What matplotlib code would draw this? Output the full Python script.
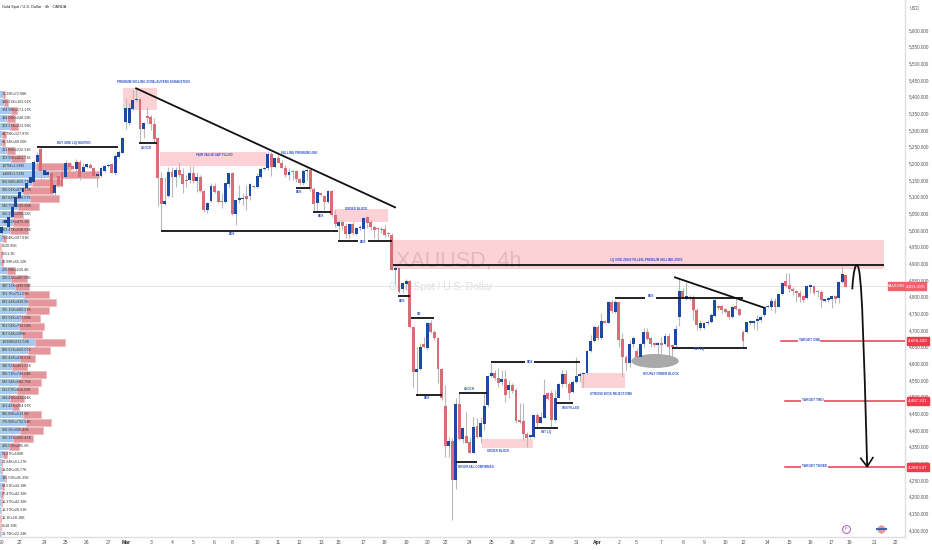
import numpy as np
import matplotlib
matplotlib.use("Agg")
import matplotlib.pyplot as plt
from matplotlib.patches import Ellipse, PathPatch, Rectangle
from matplotlib.path import Path

# 4h candles
opens = [4992,5020,5010,5040,5070,5095,5115,5125,5140,5145,
         5205,5243,5165,5165,5170,5110,5162,5175,5160,5200,
         5192,5183,5205,5175,5188,5196,5187,5163,5163,5178,
         5192,5197,5172,5220,5232,5323,5322,5363,5390,5393,
         5303,5343,5338,5317,5275,5155,5078,5103,5175,5158,
         5180,5167,5150,5150,5172,5146,5160,5117,5060,5088,
         5133,5117,5085,5083,5138,5170,5047,5090,5092,5102,
         5102,5132,5128,5160,5182,5185,5227,5190,5215,5202,
         5187,5164,5174,5176,5152,5140,5177,5180,5122,5080,
         5112,5103,5084,5117,5045,5012,5024,5012,4987,5019,
         4988,5005,5002,5039,5024,5010,5005,5003,5003,4990,
         4985,4880,4885,4822,4838,4848,4708,4573,4583,4658,
         4647,4722,4693,4677,4582,4472,4352,4368,4250,4478,
         4373,4382,4364,4332,4412,4378,4418,4475,4562,4572,
         4557,4543,4553,4520,4535,4520,4427,4428,4388,4378,
         4378,4444,4422,4437,4510,4510,4430,4497,4537,4567,
         4538,4515,4545,4562,4568,4570,4637,4667,4708,4675,
         4725,4722,4785,4755,4783,4672,4620,4600,4658,4637,
         4620,4657,4694,4675,4660,4654,4660,4657,4682,4655,
         4655,4740,4817,4793,4800,4800,4760,4705,4705,4720,
         4725,4742,4772,4772,4762,4757,4738,4772,4762,4695,
         4695,4722,4722,4728,4730,4745,4768,4770,4787,4770,
         4808,4847,4835,4822,4817,4812,4803,4795,4830,4832,
         4817,4815,4788,4790,4792,4802,4795,4845,4865]
highs = [5015,5035,5045,5075,5105,5120,5130,5145,5165,5210,
         5235,5250,5190,5180,5180,5165,5170,5180,5210,5205,
         5195,5212,5210,5200,5202,5200,5190,5170,5190,5195,
         5198,5200,5228,5240,5280,5395,5380,5420,5425,5395,
         5325,5370,5345,5335,5278,5173,5160,5190,5188,5188,
         5205,5185,5165,5192,5192,5175,5165,5120,5085,5140,
         5140,5120,5110,5142,5172,5175,5090,5135,5110,5135,
         5140,5135,5170,5190,5188,5235,5235,5220,5230,5210,
         5195,5185,5180,5180,5155,5182,5185,5185,5130,5115,
         5115,5105,5120,5120,5060,5030,5030,5020,5020,5025,
         5010,5015,5040,5042,5030,5015,5010,5010,5015,4995,
         4990,4895,4890,4845,4852,4850,4710,4650,4660,4680,
         4725,4730,4700,4680,4585,4535,4380,4375,4495,4510,
         4410,4455,4380,4440,4435,4440,4510,4565,4600,4580,
         4585,4580,4580,4550,4540,4525,4480,4480,4395,4388,
         4445,4450,4455,4553,4515,4520,4520,4540,4580,4580,
         4545,4550,4618,4575,4575,4640,4685,4715,4715,4750,
         4730,4788,4790,4790,4785,4690,4625,4670,4682,4645,
         4660,4705,4705,4680,4665,4665,4680,4690,4690,4658,
         4715,4855,4825,4845,4805,4805,4765,4730,4725,4730,
         4750,4795,4775,4775,4765,4760,4772,4795,4765,4700,
         4725,4730,4730,4745,4745,4770,4775,4795,4795,4810,
         4845,4870,4870,4830,4820,4820,4805,4835,4835,4835,
         4820,4820,4792,4800,4805,4805,4847,4892,4867]
lows = [4985,5015,5005,5035,5065,5090,5110,5120,5135,5140,
        5200,5150,5155,5160,5110,5100,5130,5130,5155,5175,
        5180,5175,5150,5170,5185,5185,5160,5130,5160,5175,
        5190,5170,5165,5215,5230,5302,5315,5360,5388,5260,
        5275,5320,5300,5265,5073,5000,5075,5100,5100,5130,
        5160,5110,5130,5140,5140,5115,5115,5055,5050,5085,
        5110,5080,5065,5080,5130,5045,5015,5080,5075,5060,
        5090,5125,5125,5155,5180,5180,5162,5185,5200,5185,
        5160,5150,5150,5145,5135,5135,5150,5118,5055,5055,
        5102,5060,5082,5040,5010,4970,5000,4975,4975,4985,
        4985,5000,4970,5005,5000,4975,4970,4990,4980,4980,
        4880,4835,4810,4810,4820,4705,4530,4503,4580,4645,
        4640,4690,4670,4540,4490,4320,4320,4130,4222,4370,
        4360,4360,4330,4330,4375,4360,4400,4470,4560,4550,
        4530,4535,4485,4495,4510,4420,4420,4370,4350,4375,
        4375,4410,4420,4435,4490,4410,4425,4495,4530,4530,
        4490,4510,4540,4545,4530,4568,4635,4665,4670,4672,
        4720,4720,4750,4752,4650,4560,4580,4590,4650,4615,
        4615,4650,4670,4650,4650,4625,4615,4655,4620,4605,
        4650,4712,4795,4790,4790,4730,4700,4700,4702,4715,
        4720,4740,4760,4750,4750,4732,4735,4760,4742,4650,
        4690,4715,4702,4700,4725,4740,4765,4760,4750,4768,
        4805,4830,4815,4805,4785,4785,4785,4793,4810,4805,
        4800,4770,4785,4785,4765,4780,4780,4840,4828]
closes = [5010,5030,5040,5070,5100,5115,5125,5140,5160,5205,
          5225,5178,5180,5175,5112,5135,5135,5132,5202,5188,
          5183,5205,5160,5190,5198,5187,5162,5165,5185,5192,
          5195,5172,5222,5234,5277,5367,5365,5390,5392,5303,
          5320,5335,5317,5272,5155,5077,5087,5175,5158,5180,
          5165,5138,5146,5172,5146,5160,5116,5060,5080,5133,
          5115,5083,5083,5140,5170,5047,5090,5095,5097,5092,
          5137,5128,5162,5182,5185,5227,5190,5215,5202,5187,
          5164,5174,5173,5152,5140,5177,5180,5122,5077,5113,
          5105,5084,5117,5045,5018,5024,5012,4987,5019,4990,
          5005,5010,5037,5022,5010,5000,5002,5000,4985,4988,
          4880,4887,4815,4840,4848,4708,4573,4583,4650,4648,
          4722,4693,4677,4582,4495,4352,4368,4250,4478,4373,
          4405,4362,4332,4410,4380,4420,4473,4562,4572,4555,
          4542,4553,4505,4535,4518,4427,4425,4388,4376,4386,
          4444,4422,4438,4505,4493,4430,4495,4537,4567,4538,
          4510,4545,4563,4568,4572,4637,4667,4708,4675,4727,
          4722,4785,4757,4783,4670,4620,4600,4658,4677,4618,
          4658,4694,4673,4657,4655,4660,4655,4682,4650,4648,
          4703,4817,4800,4802,4795,4760,4715,4720,4720,4725,
          4745,4790,4765,4760,4755,4738,4770,4762,4745,4668,
          4723,4725,4728,4732,4740,4768,4772,4787,4770,4808,
          4842,4832,4822,4817,4810,4800,4790,4832,4832,4810,
          4813,4790,4790,4795,4802,4793,4845,4867,4830]

# volume profile rows, top to bottom, in thousands
profile_prices = [5408 - 24 * i for i in range(56)]
buy_vol = [75.29,130.32,324.98,194.06,303.23,46.78,68.34,211.85,313.99,1070,
           1460,955.68,700.01,897.82,540.75,392.21,401.41,302.47,75.04,0,
           0,22.99,209.89,319.21,440.12,701.7,833.44,765.15,623.91,563.04,
           657.66,1039,828.67,605.42,348.56,639.71,546.94,511.57,294.46,361.44,
           695.86,779.96,608.6,380.37,269.57,96.37,21.84,19.04,135.59,69.51,
           37.47,16.37,16.37,12.1,0,21.79]
sell_vol = [72.08,102.61,171.17,248.29,233.93,127.87,68.06,232.31,421.71,1040,
            1510,859.77,878.77,858.57,625.68,290.32,475.3,538.64,107.91,20.95,
            51.3,65.32,226.4,487.09,439.58,751.05,839.5,689.27,573.08,763.04,
            596,913.53,669.07,438.63,461.53,748.04,682.75,616.03,434.44,204.97,
            513.5,732.54,688.46,606.47,285.6,109,51.27,36.77,45.35,44.19,
            42.36,42.36,26.31,18.18,18.16,22.34]

tick_bars = [0,5,12,18,24,30,35,42,48,54,60,65,72,78,84,90,95,102,108,114,120,125,
             132,138,144,150,155,162,168,174,179,186,192,198,204,209,216,222,228,234,239,246,252]
tick_labels = ["20","22","24","25","26","27","Mar","3","4","5","6","8","10","11","12","13","15",
               "17","18","19","20","22","24","25","26","27","29","31","Apr","2","5","7","8","9",
               "10","12","14","15","16","17","19","21","22"]
price_ticks = list(range(4100, 5601, 50))

# bar_from, bar_to, price_top, price_bottom
zones = [(34.1,43.7,5425,5360),(44.6,74.8,5233,5192),(93.7,108.8,5062,5025),
         (110.4,248.8,4970,4882),(135.3,149.7,4373,4347),(163.3,175.7,4570,4527)]
# bar_from, bar_to, price
levels = [(9.9,32.9,5250),(38.8,43.7,5262),(44.9,94.9,4997),(82.9,86.9,5125),(87.9,92.8,5054),
          (94.9,100.5,4968),(103.2,109.9,4968),(111.8,115.1,4802),(110.4,248.8,4895),
          (115.3,122,4735),(116.8,124.1,4504),(128.9,136.7,4511),(128,134,4305),
          (137.9,147.5,4604),(150.2,163,4604),(150.4,156.9,4407),(156.2,161,4481),
          (173,181.5,4797),(184.5,208.9,4797),(188.9,210,4647)]
trends = [(37.9,5425,110.9,5068),(189.8,4858,214.9,4767)]
# bar_from, bar_to, price, label, label bar
targets = [(219.7,255,4668.42,"TARGET ONE",227.6),(220.9,255,4487.231,"TARGET TWO",228.7),
           (220.9,255,4288.547,"TARGET THREE",229.2)]
notes = [(42.7,5445,"PREMIUM SELLING ZONE+BUYERS EXHAUSTION"),(20.4,5261,"BUY SIDE LIQ HUNTED"),
         (40.9,5246,"CHOCH"),(59.9,5225,"FAIR VALUE GAP FILLED"),(83.8,5230,"SELLING PREMIUM LINE"),
         (83.8,5114,"BOS"),(89.9,5043,"BOS"),(64.8,4988,"BOS"),(100,5064,"ORDER BLOCK"),
         (101.9,4964,"BOS"),(112.9,4786,"BOS"),(117.7,4747,"OB"),(119.9,4496,"BOS"),
         (131.8,4523,"CHOCH"),(133.7,4288,"REVERSAL CONFIRMED"),(140,4338,"ORDER BLOCK"),
         (148.9,4603,"BOS"),(153.4,4395,"INT LQ"),(160.4,4465,"IMB FILLED"),
         (171.7,4509,"STRONG WICK REJECTIONS"),(181.8,4909,"LQ VOID ZONE FILLED+PREMIUM SELLING ZONE"),
         (183,4801,"BOS"),(185.8,4567,"HOURLY ORDER BLOCK"),(196.7,4642,"INT LQ")]

BLUE = "#1b49a6"
RED = "#d96c75"
WICK = "#b9b9b9"
NOTE = "#2b50c8"
plt.rcParams["font.family"] = ["Liberation Sans"]


def vol_label(v):
    if v == 0:
        return "0"
    if v >= 1000:
        return f"{v / 1000:g}M"
    return f"{v:g}K"


fig = plt.figure(figsize=(9.32, 5.5), dpi=100)
ax = fig.add_axes([0, 13.5 / 550, 905 / 932, 536.5 / 550])
ax.set_xlim(-0.48, 254.66)
ax.set_ylim(4080.5, 5690)

# watermark goes under everything
ax.text(111.3, 4905, "XAUUSD, 4h", fontsize=15.5, color="#dedede", va="center", zorder=0.5)
ax.text(109.3, 4829, "Gold Spot / U.S. Dollar", fontsize=7.4, color="#dedede", va="center", zorder=0.5)

for x0, x1, top, bottom in zones:
    ax.add_patch(Rectangle((x0, bottom), x1 - x0, top - bottom, color="#f23645", alpha=0.22, lw=0, zorder=1))

# volume profile
k = 33.5 / 3.547 / 1000
left = ax.get_xlim()[0]
buy_w = np.array(buy_vol) * k
sell_w = np.array(sell_vol) * k
ax.barh(profile_prices, buy_w, left=left, height=21, color="#a9c9f5", zorder=2)
ax.barh(profile_prices, sell_w, left=left + buy_w, height=21, color="#e3979d", edgecolor="#eab4b8", lw=0.4, zorder=2)

ax.axhline(4831.87, color="#e4e4e4", lw=0.7, zorder=1.5)

# candles
x = np.arange(len(opens))
opens_a, closes_a = np.array(opens), np.array(closes)
colors = [BLUE if c >= o else RED for o, c in zip(opens, closes)]
ax.vlines(x, lows, highs, color=WICK, lw=0.8, zorder=3)
ax.bar(x, np.maximum(np.abs(closes_a - opens_a), 4), bottom=np.minimum(opens_a, closes_a), width=0.82, color=colors, zorder=3.2)

for x0, x1, p in levels:
    ax.plot([x0, x1], [p, p], color="#111111", lw=1.3, solid_capstyle="butt", zorder=4)
for x0, p0, x1, p1 in trends:
    ax.plot([x0, x1], [p0, p1], color="#111111", lw=1.3, zorder=4)

ax.add_patch(Ellipse((184.2, 4607), 13.4, 42, color="#a9a9a9", lw=0, zorder=3.1))

for x0, x1, p, label, lx in targets:
    ax.plot([x0, x1], [p, p], color="#e8394a", lw=1.1, zorder=4)
    ax.text(lx, p + 3, label, fontsize=2.3, color=NOTE, ha="center", va="center", weight="bold",
            bbox=dict(facecolor="white", edgecolor="none", pad=0.5), zorder=4.5)

for nx, ny, label in notes:
    ax.text(nx, ny, label, fontsize=2.2, color=NOTE, ha="center", va="center", weight="bold", zorder=5)

# curved projection arrow
arrow = Path([(239.8, 4822), (240.1, 4880), (240.7, 4895), (241.1, 4895),
              (242.6, 4895), (243, 4650), (244, 4290)],
             [Path.MOVETO, Path.CURVE4, Path.CURVE4, Path.CURVE4, Path.CURVE4, Path.CURVE4, Path.CURVE4])
ax.add_patch(PathPatch(arrow, fill=False, edgecolor="#111111", lw=1.3, zorder=6))
ax.plot([242.2, 244, 245.6], [4315, 4290, 4317], color="#111111", lw=1.2, zorder=6)

for row, b, s in zip(profile_prices, buy_vol, sell_vol):
    ax.text(0, row, f"{vol_label(b)}x{vol_label(s)}", fontsize=2.7, color="#333333", va="center", zorder=5)

# axes
for side in ["top", "left"]:
    ax.spines[side].set_visible(False)
for side in ["right", "bottom"]:
    ax.spines[side].set_color("#dfdfdf")
    ax.spines[side].set_linewidth(1)
ax.yaxis.tick_right()
ax.set_yticks(price_ticks, [f"{p:,}.000" for p in price_ticks], fontsize=3.3, color="#555555")
ax.set_xticks(tick_bars, tick_labels, fontsize=3.6, color="#555555")
for t in ax.get_xticklabels():
    if t.get_text() in ("Mar", "Apr"):
        t.set_fontweight("bold")
        t.set_color("#222222")
ax.tick_params(axis="both", length=0, pad=2.5)

# last price and target tags
def price_tag(p, text, x0=907, x1=929, color="#ee3b4a"):
    y = 1 - (4100 + 530 * 3 - p) / 3 / 550
    fig.patches.append(Rectangle((x0 / 932, y - 4 / 550), (x1 - x0) / 932, 8 / 550, transform=fig.transFigure, color=color, zorder=7))
    fig.text((x0 + x1) / 2 / 932, y, text, fontsize=3.2, color="white", ha="center", va="center", zorder=8)

price_tag(4831.87, "4,831.870", 905, 926, "#f2606c")
price_tag(4831.87, "XAUUSD", 888, 905, "#f2606c")
price_tag(4668.42, "4,668.420")
price_tag(4487.231, "4,487.231")
price_tag(4288.547, "4,288.547")

fig.text(2 / 932, 1 - 7 / 550, "Gold Spot / U.S. Dollar \u00b7 4h \u00b7 OANDA", fontsize=2.8, color="#222222", va="center")
fig.text(910 / 932, 1 - 8 / 550, "USD", fontsize=3.3, color="#555555", va="center")

# event icons at the bottom edge
ax.scatter([238], [4103], s=32, facecolor="white", edgecolor="#a55bc9", lw=0.7, zorder=6, clip_on=False)
ax.text(238, 4103, "F", fontsize=3, color="#8a3fb0", ha="center", va="center", zorder=7)
ax.scatter([248], [4103], s=32, facecolor="#e9929a", edgecolor="#d9c2c6", lw=0.5, zorder=6, clip_on=False)
ax.plot([246.8, 249.2], [4103, 4103], color="#3f5fb0", lw=1.4, zorder=7)

fig.savefig("out.png", dpi=100, facecolor="white")
